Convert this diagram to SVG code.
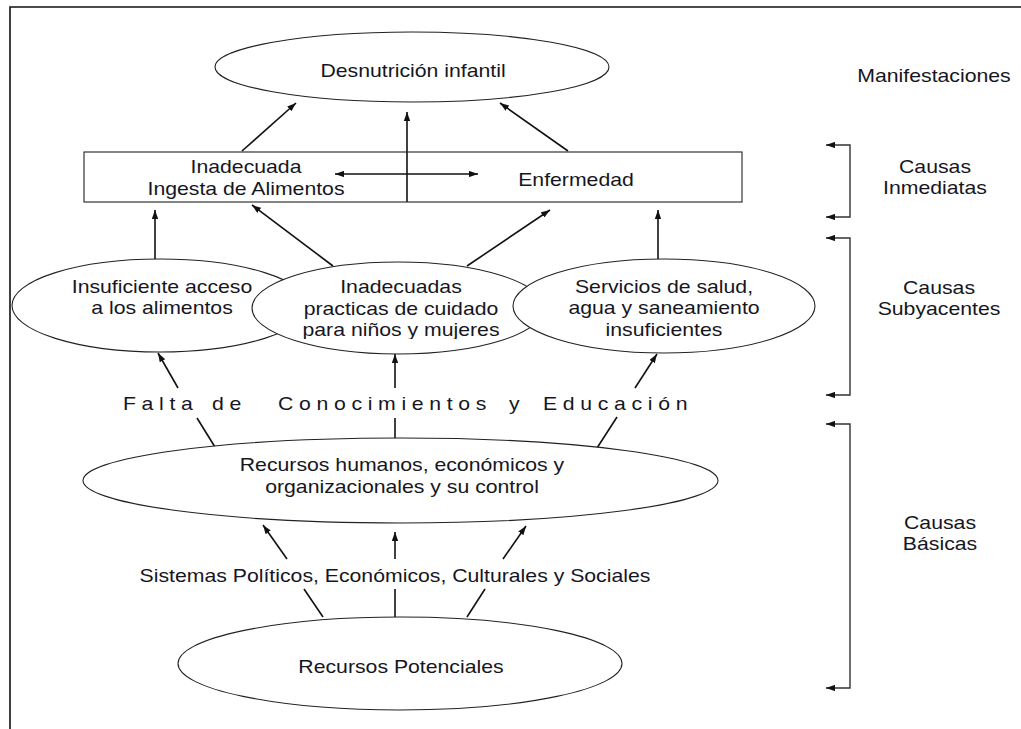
<svg xmlns="http://www.w3.org/2000/svg" width="1021" height="729" viewBox="0 0 1021 729">
<defs>
<style>
.t{font-family:"Liberation Sans",Arial,sans-serif;font-size:18px;fill:#161622;text-anchor:middle}
.ts{font-family:"Liberation Sans",Arial,sans-serif;font-size:18px;fill:#161622;letter-spacing:4.8px}
.n{fill:#fff;stroke:#222;stroke-width:1.1}
.c{fill:none;stroke:#111;stroke-width:1.6}
.a{marker-end:url(#ah)}
.br{fill:none;stroke:#333;stroke-width:1.4;marker-start:url(#ah);marker-end:url(#ah)}
.fr{fill:none;stroke:#111;stroke-width:1.6}
</style>
<marker id="ah" viewBox="0 0 10 7" refX="10" refY="3.5" markerWidth="9" markerHeight="6.3" markerUnits="userSpaceOnUse" orient="auto-start-reverse">
<path d="M0,0 L10,3.5 L0,7 z" fill="#111"/>
</marker>
<clipPath id="clipMid"><rect x="240" y="250" width="320" height="89"/></clipPath>
</defs>
<rect x="0" y="0" width="1021" height="729" fill="#fff"/>
<g id="frame">
<path class="fr" d="M10,729 V7 H1021"/>
</g>
<g id="connectors">
<line class="c a" x1="242" y1="151" x2="296" y2="103"/>
<line class="c a" x1="407" y1="202" x2="407" y2="112"/>
<line class="c a" x1="568" y1="151" x2="500" y2="103"/>
<line class="c" x1="335" y1="174" x2="478" y2="174" style="marker-start:url(#ah);marker-end:url(#ah)"/>
<line class="c a" x1="155" y1="259" x2="155" y2="210"/>
<line class="c a" x1="333" y1="266" x2="252" y2="205"/>
<line class="c a" x1="467" y1="266" x2="550" y2="210"/>
<line class="c a" x1="658" y1="259" x2="658" y2="210"/>
<line class="c a" x1="178" y1="388" x2="158" y2="353"/>
<line class="c a" x1="395" y1="388" x2="395" y2="354"/>
<line class="c a" x1="635" y1="388" x2="657" y2="354"/>
<line class="c" x1="215" y1="447" x2="197" y2="418"/>
<line class="c" x1="395" y1="439" x2="395" y2="418"/>
<line class="c" x1="597" y1="448" x2="617" y2="417"/>
<line class="c a" x1="287" y1="559" x2="263" y2="525"/>
<line class="c a" x1="395" y1="559" x2="395" y2="532"/>
<line class="c a" x1="503" y1="559" x2="526" y2="526"/>
<line class="c" x1="323" y1="617" x2="304" y2="589"/>
<line class="c" x1="395" y1="617" x2="395" y2="589"/>
<line class="c" x1="467" y1="617" x2="485" y2="589"/>
<path class="br" d="M826,145 H850 V217 H826"/>
<path class="br" d="M826,238 H850 V395 H826"/>
<path class="br" d="M826,424 H850 V688 H826"/>
</g>
<g id="desnutricion">
<ellipse class="n" cx="412" cy="67" rx="197" ry="35"/>
<text class="t" transform="translate(413,77) scale(1.18,1)">Desnutrición infantil</text>
</g>
<g id="causas-inmediatas-box">
<rect class="n" x="84" y="152" width="658" height="50" style="fill:none"/>
<text class="t" transform="translate(246,173) scale(1.18,1)"><tspan x="0" y="0">Inadecuada</tspan><tspan x="0" y="22">Ingesta de Alimentos</tspan></text>
<text class="t" transform="translate(576,186) scale(1.18,1)">Enfermedad</text>
</g>
<g id="insuficiente">
<ellipse class="n" cx="160" cy="305.5" rx="148" ry="46.5"/>
<text class="t" transform="translate(162,293) scale(1.18,1)"><tspan x="0" y="0">Insuficiente acceso</tspan><tspan x="0" y="21">a los alimentos</tspan></text>
</g>
<g id="practicas">
<ellipse class="n" cx="398" cy="308" rx="146" ry="46"/>
<g clip-path="url(#clipMid)">
<text class="t" transform="translate(401,293) scale(1.18,1)"><tspan x="0" y="0">Inadecuadas</tspan><tspan x="0" y="22">practicas de cuidado</tspan><tspan x="0" y="43">para niños y mujeres</tspan></text>
</g>
</g>
<g id="servicios">
<ellipse class="n" cx="664" cy="306" rx="151" ry="47"/>
<text class="t" transform="translate(664,293) scale(1.18,1)"><tspan x="0" y="0">Servicios de salud,</tspan><tspan x="0" y="21">agua y saneamiento</tspan><tspan x="0" y="43">insuficientes</tspan></text>
</g>
<g id="falta">
<text class="ts" transform="translate(0,410) scale(1.18,1)"><tspan x="104.2">Falta</tspan><tspan x="179.7">de</tspan><tspan x="235.6">Conocimientos</tspan><tspan x="431.4">y</tspan><tspan x="460.2">Educación</tspan></text>
</g>
<g id="recursos">
<ellipse class="n" cx="400.5" cy="480.5" rx="317.5" ry="42.5"/>
<text class="t" transform="translate(402,471) scale(1.18,1)"><tspan x="0" y="0">Recursos humanos, económicos y</tspan><tspan x="0" y="22">organizacionales y su control</tspan></text>
</g>
<g id="sistemas">
<text class="t" transform="translate(395,582) scale(1.18,1)">Sistemas Políticos, Económicos, Culturales y Sociales</text>
</g>
<g id="potenciales">
<ellipse class="n" cx="400" cy="663.5" rx="222" ry="46.5"/>
<text class="t" transform="translate(401,673) scale(1.18,1)">Recursos Potenciales</text>
</g>
<g id="labels">
<text class="t" transform="translate(934,82) scale(1.18,1)">Manifestaciones</text>
<text class="t" transform="translate(935,173) scale(1.18,1)"><tspan x="0" y="0">Causas</tspan><tspan x="0" y="21">Inmediatas</tspan></text>
<text class="t" transform="translate(939,294) scale(1.18,1)"><tspan x="0" y="0">Causas</tspan><tspan x="0" y="21">Subyacentes</tspan></text>
<text class="t" transform="translate(940,529) scale(1.18,1)"><tspan x="0" y="0">Causas</tspan><tspan x="0" y="21">Básicas</tspan></text>
</g>
</svg>
